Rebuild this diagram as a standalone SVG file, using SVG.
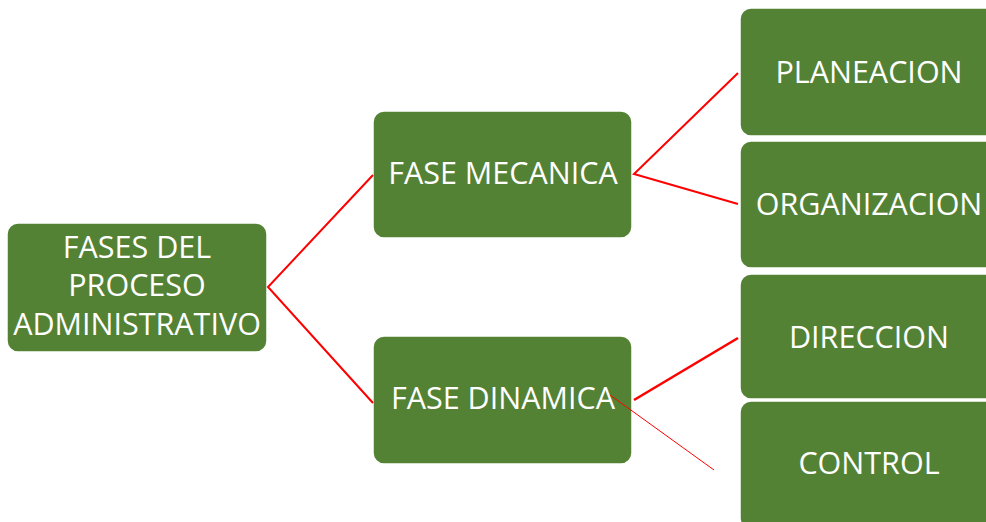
<svg xmlns="http://www.w3.org/2000/svg" width="986" height="522" viewBox="0 0 986 522">
  <style>
    .box { fill: #548235; stroke: #ffffff; stroke-width: 1.5; }
    .label { fill: #ffffff; font-family: "Open Sans", "Noto Sans", sans-serif; font-size: 30.5px; text-anchor: middle; }
    .link { stroke: #ff0000; stroke-width: 2; fill: none; }
  </style>
  <rect width="986" height="522" fill="#ffffff"/>

  <g id="node-root">
    <rect class="box" x="7" y="223" width="260" height="129" rx="11"/>
    <text class="label" x="137" y="258">FASES DEL</text>
    <text class="label" x="137" y="296">PROCESO</text>
    <text class="label" x="137" y="335">ADMINISTRATIVO</text>
  </g>

  <g id="node-mecanica">
    <rect class="box" x="373" y="111" width="259" height="127" rx="11"/>
    <text class="label" x="503" y="184">FASE MECANICA</text>
  </g>

  <g id="node-dinamica">
    <rect class="box" x="373" y="336" width="259" height="128" rx="11"/>
    <text class="label" x="503" y="409">FASE DINAMICA</text>
  </g>

  <g id="node-planeacion">
    <rect class="box" x="740" y="8" width="258" height="128" rx="11"/>
    <text class="label" x="869" y="83">PLANEACION</text>
  </g>

  <g id="node-organizacion">
    <rect class="box" x="740" y="141" width="258" height="127" rx="11"/>
    <text class="label" x="869" y="215">ORGANIZACION</text>
  </g>

  <g id="node-direccion">
    <rect class="box" x="740" y="274" width="258" height="125" rx="11"/>
    <text class="label" x="869" y="348">DIRECCION</text>
  </g>

  <g id="node-control">
    <rect class="box" x="740" y="401" width="258" height="128" rx="11"/>
    <text class="label" x="869" y="474">CONTROL</text>
  </g>

  <!-- connectors sit above the boxes; the thin stroke starts inside FASE DINAMICA -->
  <g id="connectors">
    <path class="link" d="M373,175 L268,287 L373,403"/>
    <path class="link" d="M738,73 L634,174 L738,204"/>
    <path class="link" d="M738,338 L634,400" style="stroke-width:2.6"/>
    <path class="link" d="M610,395 L714,470" style="stroke-width:1"/>
  </g>
</svg>
